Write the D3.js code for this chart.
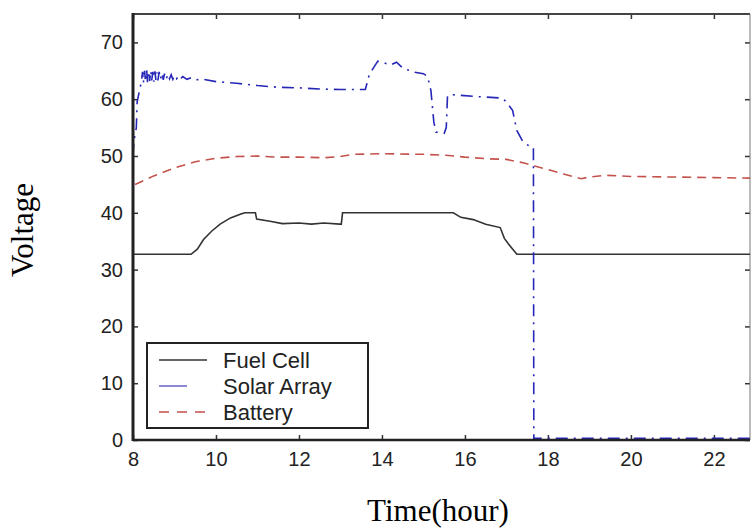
<!DOCTYPE html>
<html>
<head>
<meta charset="utf-8">
<script src="https://cdn.jsdelivr.net/npm/d3@7"></script>
<style>
    body { margin: 0; background: #fff; }
    svg { display: block; }
    .tick text { font-family: "Liberation Sans", Arial, sans-serif; font-size: 20px; fill: #222; }
    .axis-title { font-family: "Liberation Serif", "Times New Roman", serif; font-size: 31px; fill: #000; }
    .legend-text { font-family: "Liberation Sans", Arial, sans-serif; font-size: 22px; fill: #222; }
</style>
</head>
<body>
<div id="chart"></div>
<script>
// Data: [jam, volt]
const xTicks = [8, 10, 12, 14, 16, 18, 20, 22];
const yTicks = [0, 10, 20, 30, 40, 50, 60, 70];
const seriesNames = ["Fuel Cell", "Solar Array", "Battery"];

const fuelCell = [
    [8.0, 32.7], [9.4, 32.7], [9.55, 33.6], [9.7, 35.3], [9.9, 36.8],
    [10.1, 38.0], [10.35, 39.1], [10.6, 39.8], [10.7, 40.0], [10.95, 40.0],
    [10.98, 38.9], [11.3, 38.5], [11.6, 38.1], [12.0, 38.2], [12.3, 38.0],
    [12.6, 38.2], [12.98, 38.0], [13.02, 38.0], [13.05, 40.0], [15.72, 40.0],
    [15.9, 39.2], [16.2, 38.8], [16.5, 38.0], [16.85, 37.4], [16.95, 35.5],
    [17.05, 34.5], [17.25, 32.7], [22.87, 32.7]
];

const solarArray = [
    [8.0, 50.0], [8.02, 52.5], [8.08, 55.0], [8.1, 59.5], [8.17, 62.0],
    [8.2, 63.0], [8.23, 64.8], [8.25, 62.9], [8.28, 65.0], [8.3, 63.1],
    [8.33, 65.1], [8.35, 63.0], [8.38, 64.9], [8.4, 63.2], [8.43, 65.0],
    [8.45, 63.3], [8.48, 64.8], [8.5, 63.1], [8.53, 64.9], [8.55, 63.4],
    [8.58, 64.7], [8.6, 63.3], [8.63, 64.8], [8.66, 63.5], [8.7, 64.6],
    [8.73, 63.4], [8.76, 64.5], [8.8, 63.5], [8.84, 64.4], [8.88, 63.6],
    [8.92, 64.3], [8.96, 63.5], [9.0, 64.2], [9.05, 63.6], [9.1, 64.1],
    [9.15, 63.6], [9.2, 64.0], [9.3, 63.5], [9.4, 63.8], [9.5, 63.4],
    [9.7, 63.5], [10.0, 63.1], [10.5, 62.8], [11.0, 62.4], [11.5, 62.1],
    [12.0, 62.0], [12.5, 61.8], [13.0, 61.7], [13.6, 61.7], [13.7, 64.5],
    [13.75, 65.0], [13.9, 66.7], [14.05, 66.4], [14.2, 66.0], [14.35, 66.5],
    [14.5, 65.5], [14.75, 64.8], [15.0, 64.5], [15.1, 64.0], [15.18, 61.5],
    [15.25, 56.0], [15.3, 54.2], [15.5, 54.0], [15.55, 55.0], [15.58, 60.6],
    [15.7, 60.8], [16.2, 60.5], [16.9, 60.2], [17.0, 59.5], [17.15, 58.0],
    [17.25, 54.5], [17.4, 52.5], [17.6, 51.5], [17.65, 51.5], [17.66, 0.3],
    [22.87, 0.3]
];

const battery = [
    [8.05, 45.0], [8.5, 46.5], [9.0, 47.9], [9.5, 49.0], [10.0, 49.6],
    [10.5, 49.9], [11.0, 50.0], [11.5, 49.8], [12.0, 49.8], [12.6, 49.7],
    [13.0, 49.9], [13.3, 50.3], [14.0, 50.4], [15.0, 50.3], [15.6, 50.1],
    [16.0, 49.8], [16.6, 49.5], [17.0, 49.4], [17.4, 48.8], [17.7, 48.2],
    [18.0, 47.6], [18.4, 46.8], [18.8, 46.0], [19.0, 46.3], [19.4, 46.6],
    [20.0, 46.4], [21.0, 46.3], [22.0, 46.2], [22.87, 46.1]
];

const W = 751, H = 530;
const plot = { left: 133, right: 750, top: 14, bottom: 440 };

const svg = d3.select("#chart").append("svg")
    .attr("width", W)
    .attr("height", H);

// Skala
const x = d3.scaleLinear().domain([8, 22.87]).range([plot.left, plot.right]);
const y = d3.scaleLinear().domain([0, 75]).range([plot.bottom, plot.top]);

// Sumbu (tick ke dalam seperti MATLAB)
const axisLeft = svg.append("g")
    .attr("transform", `translate(${plot.left},0)`)
    .call(d3.axisLeft(y).tickValues(yTicks).tickSizeInner(-5).tickSizeOuter(0).tickPadding(10));
const axisBottom = svg.append("g")
    .attr("transform", `translate(0,${plot.bottom})`)
    .call(d3.axisBottom(x).tickValues(xTicks).tickSizeInner(-5).tickSizeOuter(0).tickPadding(12));
const axisTop = svg.append("g")
    .attr("transform", `translate(0,${plot.top})`)
    .call(d3.axisTop(x).tickValues(xTicks).tickSizeInner(-5).tickSizeOuter(0).tickFormat(""));
const axisRight = svg.append("g")
    .attr("transform", `translate(${plot.right},0)`)
    .call(d3.axisRight(y).tickValues(yTicks).tickSizeInner(-5).tickSizeOuter(0).tickFormat(""));

[axisLeft, axisBottom, axisTop, axisRight].forEach(g => {
    g.select(".domain").remove();
    g.selectAll(".tick line").attr("stroke", "#333").attr("stroke-width", 1.5);
});

// Bingkai
svg.append("line").attr("x1", plot.left).attr("x2", plot.right).attr("y1", plot.top).attr("y2", plot.top)
    .attr("stroke", "#444").attr("stroke-width", 2);
svg.append("line").attr("x1", plot.right).attr("x2", plot.right).attr("y1", plot.top).attr("y2", plot.bottom)
    .attr("stroke", "#777").attr("stroke-width", 1);

// Garis data
const line = d3.line().x(d => x(d[0])).y(d => y(d[1]));

svg.append("path").datum(battery)
    .attr("fill", "none").attr("stroke", "#c4524c").attr("stroke-width", 1.6)
    .attr("stroke-dasharray", "9,6").attr("d", line);

svg.append("path").datum(fuelCell)
    .attr("fill", "none").attr("stroke", "#333").attr("stroke-width", 1.6)
    .attr("d", line);

svg.append("path").datum(solarArray)
    .attr("fill", "none").attr("stroke", "#2626b8").attr("stroke-width", 1.6)
    .attr("stroke-dasharray", "12,6,2,6").attr("d", line);

// Garis sumbu kiri & bawah (tebal)
svg.append("line").attr("x1", plot.left).attr("x2", plot.left).attr("y1", plot.top - 1).attr("y2", plot.bottom + 1)
    .attr("stroke", "#222").attr("stroke-width", 3);
svg.append("line").attr("x1", plot.left).attr("x2", plot.right).attr("y1", plot.bottom).attr("y2", plot.bottom)
    .attr("stroke", "#222").attr("stroke-width", 2.5);

// Legenda
const legend = svg.append("g");
legend.append("rect")
    .attr("x", 147).attr("y", 343).attr("width", 221).attr("height", 85)
    .attr("fill", "#fff").attr("stroke", "#222").attr("stroke-width", 2);

const legendStyles = [
    { color: "#333", dash: null },
    { color: "#6a6ac8", dash: "28,20" },
    { color: "#c4524c", dash: "10,8" }
];
seriesNames.forEach((name, i) => {
    const ly = 360 + i * 26;
    legend.append("line")
        .attr("x1", 159).attr("x2", 207).attr("y1", ly).attr("y2", ly)
        .attr("stroke", legendStyles[i].color).attr("stroke-width", 1.6)
        .attr("stroke-dasharray", legendStyles[i].dash);
    legend.append("text")
        .attr("class", "legend-text")
        .attr("x", 223).attr("y", ly + 8)
        .text(name);
});

// Judul sumbu
svg.append("text")
    .attr("class", "axis-title")
    .attr("x", 438).attr("y", 521)
    .attr("text-anchor", "middle")
    .text("Time(hour)");

svg.append("text")
    .attr("class", "axis-title")
    .attr("transform", "translate(33,230) rotate(-90)")
    .attr("text-anchor", "middle")
    .text("Voltage");
</script>
</body>
</html>
